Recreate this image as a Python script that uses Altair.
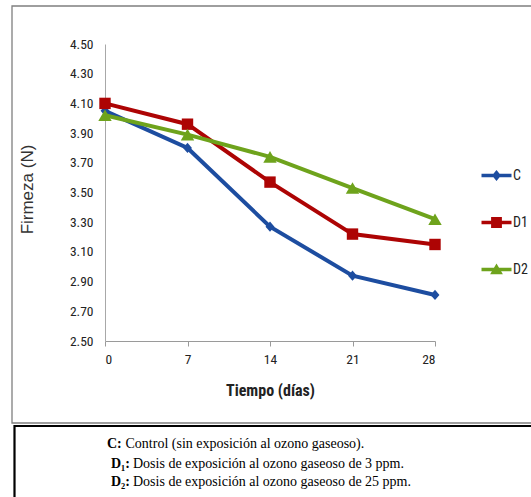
import altair as alt
import pandas as pd

# Firmness (N) measured every 7 days for each ozone treatment
days = [0, 7, 14, 21, 28]
series_names = ["C", "D1", "D2"]
firmness_c = [4.05, 3.80, 3.27, 2.94, 2.81]
firmness_d1 = [4.10, 3.96, 3.57, 3.22, 3.15]
firmness_d2 = [4.02, 3.89, 3.74, 3.53, 3.32]
y_ticks = [2.50, 2.70, 2.90, 3.10, 3.30, 3.50, 3.70, 3.90, 4.10, 4.30, 4.50]

series_colors = ["#1D4DA0", "#AD0404", "#6EA31C"]

footer_labels = ["C:", "D\u2081:", "D\u2082:"]
footer_texts = [
    "Control (sin exposición al ozono gaseoso).",
    "Dosis de exposición al ozono gaseoso de 3 ppm.",
    "Dosis de exposición al ozono gaseoso de 25 ppm.",
]

rows = []
for name, vals in zip(series_names, [firmness_c, firmness_d1, firmness_d2]):
    for d, v in zip(days, vals):
        rows.append({"series": name, "dia": d, "firmeza": v})
df = pd.DataFrame(rows)

NARROW = "Liberation Sans Narrow, Arial Narrow, Roboto Condensed, sans-serif"

x_enc = alt.X(
    "dia:Q",
    scale=alt.Scale(domain=[0, 28], nice=False),
    axis=alt.Axis(
        values=days, grid=False, tickSize=5, tickColor="#9a9a9a",
        domainColor="#9a9a9a", labelFont=NARROW, labelFontSize=13.5,
        labelColor="#222222", labelPadding=6,
        title="Tiempo (días)", titleFont=NARROW, titleFontSize=16,
        titleFontWeight="bold", titleColor="#222222",
        titleX=165, titleY=49, titleBaseline="middle", titleAlign="center",
    ),
)
y_enc = alt.Y(
    "firmeza:Q",
    scale=alt.Scale(domain=[2.5, 4.5], nice=False, zero=False),
    axis=alt.Axis(
        values=y_ticks, format=".2f", grid=False, ticks=False, tickSize=0,
        labelOverlap=False, labelBound=False, labelFlush=False,
        domainColor="#a8a8a8", labelFont=NARROW, labelFontSize=13.5,
        labelColor="#222222", labelPadding=12,
        title="Firmeza (N)", titleFont="Liberation Sans", titleFontSize=17,
        titleFontWeight="normal", titleColor="#333333",
        titleX=-78, titleY=145, titleAngle=270,
        titleAlign="center", titleBaseline="middle",
    ),
)

base = alt.Chart(df)

# one line + marker layer per series
marker_shapes = ["M0,-1.2L1.05,0L0,1.2L-1.05,0Z", "square", "triangle-up"]
marker_sizes = [72, 130, 180]
series_layers = []
for name, col in zip(series_names, series_colors):
    sub = base.transform_filter(alt.datum.series == name)
    series_layers.append(
        sub.mark_line(strokeWidth=4, color=col).encode(x=x_enc, y=y_enc)
    )
for name, col, shp, sz in zip(series_names, series_colors, marker_shapes, marker_sizes):
    sub = base.transform_filter(alt.datum.series == name)
    series_layers.append(
        sub.mark_point(shape=shp, size=sz, filled=True, opacity=1, color=col)
        .encode(x=x_enc, y=y_enc)
    )

# legend symbols: a line segment with the series marker on it
legend_paths = [
    "M-2,-0.22H2V0.22H-2Z M0,-0.72L0.6,0L0,0.72L-0.6,0Z",
    "M-2,-0.22H2V0.22H-2Z M-0.72,-0.72H0.72V0.72H-0.72Z",
    "M-2,-0.22H2V0.22H-2Z M0,-0.8L0.85,0.62H-0.85Z",
]
legend_props = dict(
    orient="none", legendX=384, legendY=124, title=None,
    symbolSize=225, symbolStrokeWidth=0, labelFont=NARROW,
    labelFontSize=14, labelColor="#222222", labelOffset=9,
    rowPadding=32, padding=0,
)
# this layer only feeds the legend; its own marks sit outside the view
legend_layer = base.mark_point(filled=True, opacity=1, size=225).encode(
    x=alt.value(-3000), y=alt.value(-3000),
    color=alt.Color("series:N",
                    scale=alt.Scale(domain=series_names, range=series_colors),
                    legend=alt.Legend(**legend_props)),
    shape=alt.Shape("series:N",
                    scale=alt.Scale(domain=series_names, range=legend_paths),
                    legend=alt.Legend(**legend_props)),
)

one = alt.Data(values=[{}])

# frame around the chart area (open on the right)
chart_frame = alt.Chart(one).mark_rect(
    fill=None, stroke="#7f7f7f", strokeWidth=1.3
).encode(
    x=alt.value(-93), x2=alt.value(480), y=alt.value(-38), y2=alt.value(379)
)
# frame around the notes below
notes_frame = alt.Chart(one).mark_rect(
    fill=None, stroke="#000000", strokeWidth=2.2
).encode(
    x=alt.value(-90.5), x2=alt.value(480), y=alt.value(382), y2=alt.value(480)
)

note_layers = []
note_y = [400, 420, 438]
label_x = [2, 6, 6]
text_x = [20.5, 28, 28]
for lab, txt, yy, lx, tx in zip(footer_labels, footer_texts, note_y, label_x, text_x):
    note_layers.append(
        alt.Chart(one).mark_text(
            font="Liberation Serif", fontSize=14, fontWeight="bold",
            align="left", baseline="middle", color="#000000"
        ).encode(x=alt.value(lx), y=alt.value(yy), text=alt.value(lab))
    )
    note_layers.append(
        alt.Chart(one).mark_text(
            font="Liberation Serif", fontSize=14,
            align="left", baseline="middle", color="#000000"
        ).encode(x=alt.value(tx), y=alt.value(yy), text=alt.value(txt))
    )

chart = alt.layer(
    chart_frame, notes_frame, *series_layers, legend_layer, *note_layers
).properties(
    width=330, height=297,
    padding={"left": 105, "top": 44, "right": 96, "bottom": 156},
    autosize=alt.AutoSizeParams(type="none"),
    background="white",
).configure_view(stroke=None)

chart.save("out.html", embed_options={"renderer": "svg", "actions": False})
